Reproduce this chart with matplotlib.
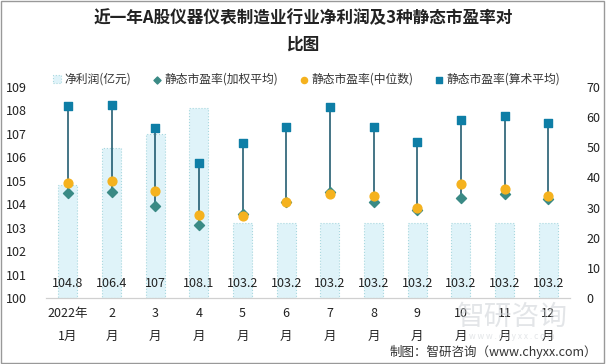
import matplotlib.pyplot as plt
import numpy as np
from matplotlib.patches import Rectangle

plt.rcParams['font.family'] = ['Noto Sans CJK SC', 'DejaVu Sans']

months = ["2022年\n1月", "2\n月", "3\n月", "4\n月", "5\n月", "6\n月",
          "7\n月", "8\n月", "9\n月", "10\n月", "11\n月", "12\n月"]
profit = [104.8, 106.4, 107, 108.1, 103.2, 103.2, 103.2, 103.2, 103.2, 103.2, 103.2, 103.2]
pe_weighted = [34.7, 35.2, 30.5, 24.1, 27.8, 32.0, 35.3, 31.9, 29.2, 33.1, 34.5, 32.7]
pe_median = [38.1, 38.8, 35.6, 27.6, 27.3, 31.8, 34.6, 33.8, 29.8, 37.9, 36.3, 33.8]
pe_mean = [63.7, 64.0, 56.4, 44.9, 51.5, 56.8, 63.4, 56.8, 51.8, 58.8, 60.4, 58.1]

fig = plt.figure(figsize=(6.06, 3.64), dpi=100)
ax = fig.add_axes([0.076, 0.1805, 0.8646, 0.5815])
ax2 = ax.twinx()

x = np.arange(len(months))
ax.bar(x, np.array(profit) - 100, 0.44, bottom=100, color="#dff3f9",
       edgecolor="#a8d8df", linewidth=0.8, linestyle=":", label="净利润(亿元)", zorder=1)
for xi, v in zip(x, profit):
    ax.text(xi, 100.35, f"{v:g}", ha="center", va="bottom", fontsize=9, color="#222222")

ax.set_ylim(100, 109)
ax.set_yticks(range(100, 110))
ax.set_xlim(-0.5, 11.5)
ax.set_xticks(x)
ax.set_xticklabels(months, fontsize=9, linespacing=2.0)

ax2.set_ylim(0, 70)
ax2.set_yticks(range(0, 80, 10))

# high-low lines
lo = np.minimum(np.minimum(pe_weighted, pe_median), pe_mean)
hi = np.maximum(np.maximum(pe_weighted, pe_median), pe_mean)
ax2.vlines(x, lo, hi, color="#124f66", linewidth=1.1, zorder=2)
ax2.scatter(x, pe_weighted, marker="D", s=26, color="#3a8a85", label="静态市盈率(加权平均)", zorder=3)
ax2.scatter(x, pe_median, marker="o", s=40, color="#f5b21e", label="静态市盈率(中位数)", zorder=4)
ax2.scatter(x, pe_mean, marker="s", s=36, color="#0e7ea6", label="静态市盈率(算术平均)", zorder=5)

for a in (ax, ax2):
    for s in ["top", "left", "right"]:
        a.spines[s].set_visible(False)
    a.spines["bottom"].set_color("#d0d0d0")
    a.tick_params(length=0, labelsize=9, colors="#222222")
ax.tick_params(axis="x", pad=6)
ax.tick_params(axis="y", pad=14)
ax2.tick_params(axis="y", pad=12)

h1, l1 = ax.get_legend_handles_labels()
h2, l2 = ax2.get_legend_handles_labels()
leg = fig.legend(h1 + h2, l1 + l2, loc="center left", bbox_to_anchor=(0.07, 0.782), ncol=4,
                 frameon=False, fontsize=8.5, handlelength=0.7, handletextpad=0.3,
                 columnspacing=1.8, labelcolor="#333333", markerscale=0.7)

fig.text(0.5, 0.95, "近一年A股仪器仪表制造业行业净利润及3种静态市盈率对", ha="center", va="center",
         fontsize=12, fontweight="bold", color="#222222")
fig.text(0.5, 0.878, "比图", ha="center", va="center", fontsize=12, fontweight="bold", color="#222222")

# watermark
fig.text(0.845, 0.13, "智研咨询", ha="center", va="center", fontsize=20, color="#c8cdd2", alpha=0.5, zorder=0)
fig.text(0.845, 0.075, "w w w . c h y x x . c o m", ha="center", va="center", fontsize=6, color="#c8cdd2", alpha=0.5)

fig.text(0.985, 0.033, "制图：智研咨询（www.chyxx.com）", ha="right", va="center", fontsize=9, color="#333333")

fig.patches.append(Rectangle((0.002, 0.003), 0.995, 0.994, transform=fig.transFigure,
                             fill=False, edgecolor="#999999", linewidth=1))

fig.savefig("out.png", dpi=100)
